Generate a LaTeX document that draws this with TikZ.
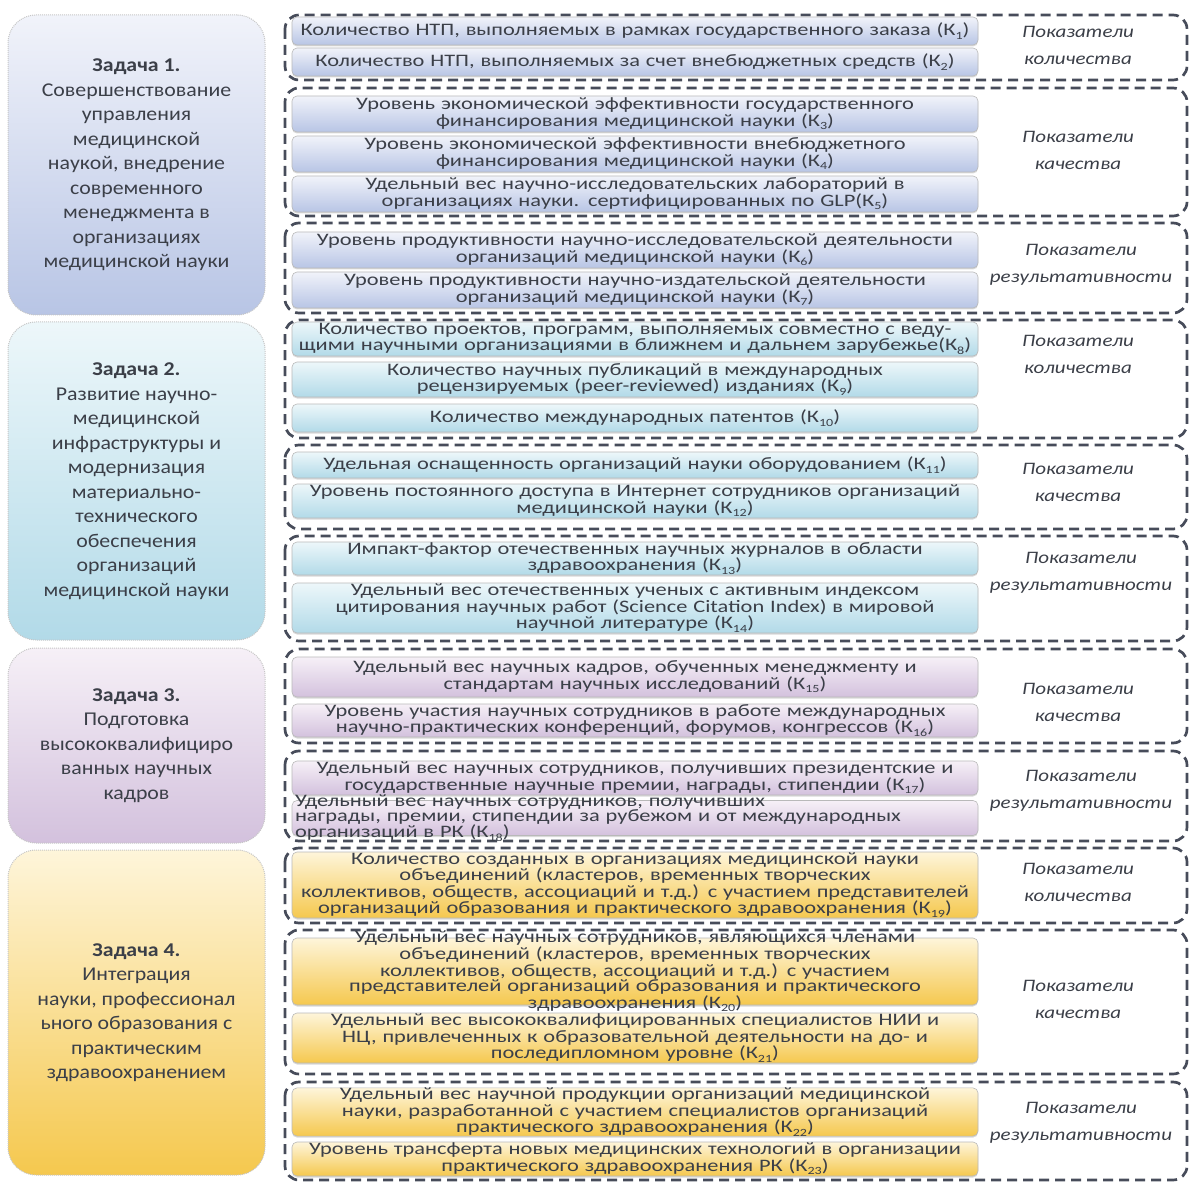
\documentclass[tikz,border=0pt]{standalone}
\usepackage{fontspec}
\usetikzlibrary{shadows}
\setmainfont{Carlito}
\newfontfamily\itemfont[FakeStretch=1.28]{Carlito}
\newfontfamily\taskfont[FakeStretch=1.12]{Carlito}
\newfontfamily\labelfont[FakeStretch=1.2]{Carlito}
\newcommand\ksub[1]{\raisebox{-0.45ex}{\fontsize{11}{11}\selectfont #1}}
\definecolor{dashgray}{HTML}{474C5A}
\definecolor{txtgray}{HTML}{3B3F48}
\definecolor{blueA}{HTML}{F1F3FA}
\definecolor{blueB}{HTML}{B8C5E5}
\definecolor{cyanA}{HTML}{EDF7FA}
\definecolor{cyanB}{HTML}{B2DAE8}
\definecolor{lilaA}{HTML}{F6F0F7}
\definecolor{lilaB}{HTML}{D3C1DD}
\definecolor{yellA}{HTML}{FEF5DA}
\definecolor{yellB}{HTML}{F5C84E}
\begin{document}
\begin{tikzpicture}[x=1pt,y=-1pt,
  task/.style={draw=gray!45, densely dotted, line width=1pt, rounded corners=28pt,
    minimum width=257pt, align=center, text=txtgray,
    font=\taskfont\fontsize{19.5}{24.5}\selectfont},
  item/.style={draw=gray!55, line width=0.6pt, rounded corners=5pt, minimum width=686pt,
    text width=682pt, inner xsep=2pt, inner ysep=0pt, align=center, text=txtgray,
    font=\itemfont\fontsize{17.5}{16.3}\selectfont,
    drop shadow={shadow xshift=0pt, shadow yshift=-1.5pt, opacity=0.3}},
  bluebox/.style={item, top color=blueA, bottom color=blueB},
  cyanbox/.style={item, top color=cyanA, bottom color=cyanB},
  lilabox/.style={item, top color=lilaA, bottom color=lilaB},
  yellbox/.style={item, top color=yellA, bottom color=yellB},
  grp/.style={draw=dashgray, line width=2.7pt, dash pattern=on 10pt off 6pt, rounded corners=14pt},
  lbl/.style={align=center, text=txtgray, font=\labelfont\itshape\fontsize{17.5}{27}\selectfont}]
\useasboundingbox (0,0) rectangle (1194,1182);

% Gruppen der Kennzahlen
\draw[grp] (285,15) rectangle (1187,80);
\draw[grp] (285,88) rectangle (1187,216);
\draw[grp] (285,223) rectangle (1187,313);
\draw[grp] (285,320) rectangle (1187,438);
\draw[grp] (285,445) rectangle (1187,529);
\draw[grp] (285,536) rectangle (1187,641);
\draw[grp] (285,649) rectangle (1187,743);
\draw[grp] (285,751) rectangle (1187,841);
\draw[grp] (285,848) rectangle (1187,923);
\draw[grp] (285,930) rectangle (1187,1074);
\draw[grp] (285,1082) rectangle (1187,1180);

\node[lbl] (l1) at (1078,45.5) {Показатели\\количества};
\node[lbl] (l2) at (1078,150.5) {Показатели\\качества};
\node[lbl] (l3) at (1081,264.5) {Показатели\\результативности};
\node[lbl] (l4) at (1078,354.5) {Показатели\\количества};
\node[lbl] (l5) at (1078,482.5) {Показатели\\качества};
\node[lbl] (l6) at (1081,572.5) {Показатели\\результативности};
\node[lbl] (l7) at (1078,702.5) {Показатели\\качества};
\node[lbl] (l8) at (1081,790.5) {Показатели\\результативности};
\node[lbl] (l9) at (1078,882.5) {Показатели\\количества};
\node[lbl] (l10) at (1078,999.5) {Показатели\\качества};
\node[lbl] (l11) at (1081,1122.5) {Показатели\\результативности};

% Задачи
\node[task, top color=blueA, bottom color=blueB, minimum height=300pt] (t1) at (136.5,165)
  {\textbf{Задача 1.}\\Совершенствование\\управления\\медицинской\\наукой, внедрение\\современного\\менеджмента в\\организациях\\медицинской науки};
\node[task, top color=cyanA, bottom color=cyanB, minimum height=318pt] (t2) at (136.5,481)
  {\textbf{Задача 2.}\\Развитие научно-\\медицинской\\инфраструктуры и\\модернизация\\материально-\\технического\\обеспечения\\организаций\\медицинской науки};
\node[task, top color=lilaA, bottom color=lilaB, minimum height=195pt] (t3) at (136.5,745.5)
  {\textbf{Задача 3.}\\Подготовка\\высококвалифициро\\ванных научных\\кадров};
\node[task, top color=yellA, bottom color=yellB, minimum height=325pt] (t4) at (136.5,1012.5)
  {\textbf{Задача 4.}\\Интеграция\\науки, профессионал\\ьного образования с\\практическим\\здравоохранением};

% Kennzahlen K1..K23
\node[bluebox, minimum height=28pt] (k1) at (635,31) {Количество НТП, выполняемых в рамках государственного заказа (К\ksub{1})};
\node[bluebox, minimum height=28pt] (k2) at (635,62) {Количество НТП, выполняемых за счет внебюджетных средств (К\ksub{2})};
\node[bluebox, minimum height=36pt] (k3) at (635,114) {Уровень экономической эффективности государственного\\финансирования медицинской науки (К\ksub{3})};
\node[bluebox, minimum height=36pt] (k4) at (635,154) {Уровень экономической эффективности внебюджетного\\финансирования медицинской науки (К\ksub{4})};
\node[bluebox, minimum height=36pt] (k5) at (635,194) {Удельный вес научно-исследовательских лабораторий в\\организациях науки. сертифицированных по GLP(К\ksub{5})};
\node[bluebox, minimum height=36pt] (k6) at (635,250) {Уровень продуктивности научно-исследовательской деятельности\\организаций медицинской науки (К\ksub{6})};
\node[bluebox, minimum height=36pt] (k7) at (635,290) {Уровень продуктивности научно-издательской деятельности\\организаций медицинской науки (К\ksub{7})};

\node[cyanbox, minimum height=34pt] (k8) at (635,339) {Количество проектов, программ, выполняемых совместно с веду-\\щими научными организациями в~ближнем и~дальнем зарубежье(К\ksub{8})};
\node[cyanbox, minimum height=35pt] (k9) at (635,379.5) {Количество научных публикаций в международных\\рецензируемых (peer-reviewed) изданиях (К\ksub{9})};
\node[cyanbox, minimum height=28pt] (k10) at (635,418) {Количество международных патентов (К\ksub{10})};
\node[cyanbox, minimum height=26pt] (k11) at (635,465) {Удельная оснащенность организаций науки оборудованием (К\ksub{11})};
\node[cyanbox, minimum height=34pt] (k12) at (635,501) {Уровень постоянного доступа в Интернет сотрудников организаций\\медицинской науки (К\ksub{12})};
\node[cyanbox, minimum height=33pt] (k13) at (635,558.5) {Импакт-фактор отечественных научных журналов в области\\здравоохранения (К\ksub{13})};
\node[cyanbox, minimum height=50pt] (k14) at (635,608) {Удельный вес отечественных ученых с активным индексом\\цитирования научных работ (Science Citation Index) в мировой\\научной литературе (К\ksub{14})};

\node[lilabox, minimum height=40pt] (k15) at (635,677) {Удельный вес научных кадров, обученных менеджменту и\\стандартам научных исследований (К\ksub{15})};
\node[lilabox, minimum height=33pt] (k16) at (635,720.5) {Уровень участия научных сотрудников в работе международных\\научно-практических конференций, форумов, конгрессов (К\ksub{16})};
\node[lilabox, minimum height=34pt] (k17) at (635,778) {Удельный вес научных сотрудников, получивших президентские и\\государственные научные премии, награды, стипендии (К\ksub{17})};
\node[lilabox, minimum height=35pt] (k18) at (635,818) {};
\node[align=left, text width=680pt, text=txtgray, font=\itemfont\fontsize{17.5}{15.3}\selectfont] (k18t) at (k18) {Удельный вес научных сотрудников, получивших\\награды, премии, стипендии за рубежом и от международных\\организаций в РК (К\ksub{18})};

\node[yellbox, minimum height=66pt] (k19) at (635,885) {Количество созданных в организациях медицинской науки\\объединений (кластеров, временных творческих\\коллективов, обществ, ассоциаций  и т.д.) с участием представителей\\организаций образования и практического здравоохранения (К\ksub{19})};
\node[yellbox, minimum height=67pt] (k20) at (635,971.5) {};
\node[align=center, text width=680pt, text=txtgray, font=\itemfont\fontsize{17.5}{15.3}\selectfont] (k20t) at (k20) {Удельный вес научных сотрудников, являющихся членами\\объединений (кластеров, временных творческих\\коллективов, обществ, ассоциаций  и т.д.) с участием\\представителей организаций образования и практического\\здравоохранения (К\ksub{20})};
\node[yellbox, minimum height=50pt] (k21) at (635,1038) {Удельный вес высококвалифицированных специалистов НИИ и\\НЦ, привлеченных к образовательной деятельности на до- и\\последипломном уровне (К\ksub{21})};
\node[yellbox, minimum height=48pt] (k22) at (635,1112) {Удельный вес научной продукции  организаций медицинской\\науки, разработанной с участием специалистов организаций\\практического здравоохранения (К\ksub{22})};
\node[yellbox, minimum height=34pt] (k23) at (635,1159) {Уровень трансферта новых медицинских технологий в организации\\практического здравоохранения РК (К\ksub{23})};

\end{tikzpicture}
\end{document}
